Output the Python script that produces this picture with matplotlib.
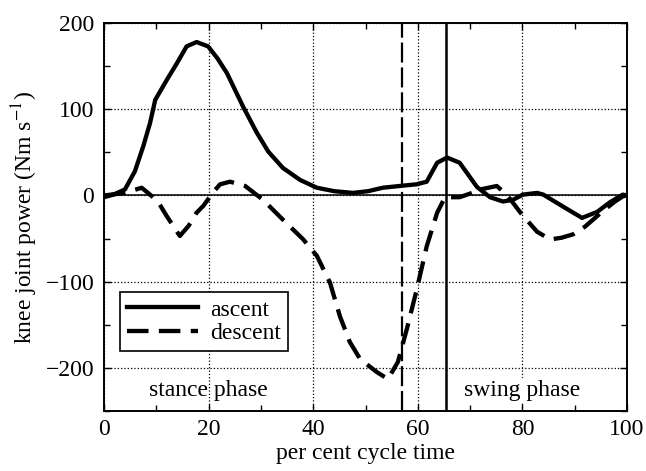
import matplotlib
matplotlib.use("Agg")
import matplotlib.pyplot as plt
from matplotlib.ticker import MultipleLocator

plt.rcParams['font.family'] = ['Liberation Serif', 'DejaVu Serif']
plt.rcParams['mathtext.fontset'] = 'stix'

# ascent (solid) knee power
asc_x = [0, 1.8, 4, 5.9, 7.5, 8.8, 9.8, 12, 14, 15.8, 17.7, 19.9, 21.7, 23.5, 26.6,
         29.2, 31.4, 34.2, 37.5, 40.7, 44, 47.6, 50.5, 53.3, 56.5, 59.8, 61.7, 63.7,
         65.6, 68, 71.3, 73.8, 76.3, 78.2, 80.1, 82.8, 84, 87.8, 91.4, 94.3, 96.7,
         99.2, 100]
asc_y = [-2, 1, 7, 28, 57, 84, 111, 134, 154, 173, 178, 173, 159, 142, 103,
         73, 51, 32, 18, 9, 5, 3, 5, 9, 11, 13, 16, 38,
         44, 38, 10, -2, -7, -5, 1, 3, 1, -13, -26, -19, -8,
         1, 0]

# descent (dashed)
desc_x = [0, 4, 7.2, 8.8, 10.4, 12, 14.5, 16.2, 17.7, 19, 20.9, 22.2, 24.1, 27, 30.4,
          34.2, 38.1, 40.7, 43.2, 45.1, 47, 49, 52.2, 54.3, 56.2, 57.9, 59.8, 61.7,
          63.7, 65.2, 68, 70.6, 71.9, 75.1, 77, 79.9, 82.8, 85.3, 87.5, 89.7, 92,
          95.4, 97.7, 99.2, 100]
desc_y = [0, 3, 9, 1, -8, -24, -47, -35, -20, -12, 4, 13, 16, 11, -5,
          -28, -51, -70, -101, -140, -170, -190, -205, -213, -193, -155, -109, -59,
          -20, -2, -2, 3.5, 7, 11, 1, -22, -42, -51, -49, -45, -36,
          -18, -7, -1, 0]

toe_off_desc = 57
toe_off_asc = 65.3

fig = plt.figure(figsize=(6.46, 4.71), dpi=100)
ax = fig.add_axes([0.161, 0.1274, 0.8096, 0.8236])

ax.plot(asc_x, asc_y, color='black', lw=3.1, label='ascent', zorder=4,
        solid_joinstyle='round')
ax.plot(desc_x, desc_y, color='black', lw=3.1, dashes=(5, 2.4), label='descent',
        zorder=4, dash_joinstyle='round')
ax.axhline(0, color='black', lw=1.1, zorder=3)
ax.axvline(toe_off_desc, color='black', lw=1.6, dashes=(9, 2.2), zorder=3)
ax.axvline(toe_off_asc, color='black', lw=1.8, zorder=3)

ax.set_xlim(0, 100)
ax.set_ylim(-250, 200)
ax.xaxis.set_major_locator(MultipleLocator(20))
ax.xaxis.set_minor_locator(MultipleLocator(10))
ax.yaxis.set_major_locator(MultipleLocator(100))
ax.yaxis.set_minor_locator(MultipleLocator(50))
ax.tick_params(which='both', direction='in', top=True, right=True, labelsize=17, width=1.0)
ax.tick_params(which='major', length=5)
ax.tick_params(which='minor', length=4)
ax.tick_params(axis='y', pad=7)
ax.tick_params(axis='x', pad=6)
ax.set_yticks([-200, -100, 0, 100, 200])
ax.set_yticklabels(['\u2212200', '\u2212100', '0', '100', '200'])
ax.grid(True, which='major', color='black', linestyle=':', lw=0.9)
for s in ax.spines.values():
    s.set_linewidth(1.4)

ax.set_xlabel('per cent cycle time', fontsize=17, labelpad=2)
ax.set_ylabel('knee joint power (Nm s$^{-1}$)', fontsize=17, labelpad=4)

ax.text(20, -226, 'stance phase', ha='center', va='center', fontsize=17, zorder=5)
ax.text(80, -226, 'swing phase', ha='center', va='center', fontsize=17, zorder=5,
        bbox=dict(facecolor='white', edgecolor='none', pad=1))

leg = ax.legend(loc='upper left', bbox_to_anchor=(0.031, 0.307), fontsize=17,
                frameon=True, fancybox=False, edgecolor='black', framealpha=1,
                handlelength=3.0, handletextpad=0.5, borderpad=0.3,
                labelspacing=0.1, borderaxespad=0)
leg.get_frame().set_linewidth(1.2)

plt.savefig('out.png', dpi=100)
